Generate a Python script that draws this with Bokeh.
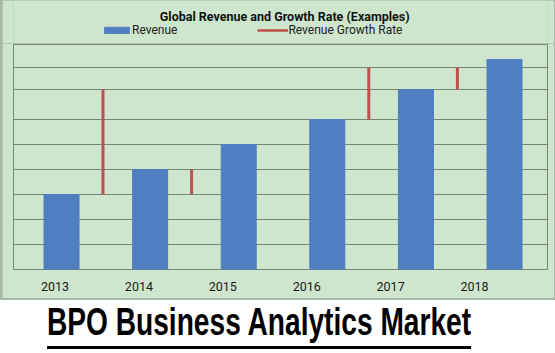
from bokeh.plotting import figure
from bokeh.models import (Range1d, LinearAxis, FixedTicker, Grid, Legend,
                          LegendItem, Div, Label)
from bokeh.layouts import column
from bokeh.embed import file_html
from bokeh.resources import INLINE

# ---- data ----
years = [2013, 2014, 2015, 2016, 2017, 2018]
year_labels = ["2013", "2014", "2015", "2016", "2017", "2018"]
revenue = [3.0, 4.0, 5.0, 6.0, 7.2, 8.4]
growth_low = [3.0, 3.0, float("nan"), 6.0, 7.2, float("nan")]
growth_high = [7.2, 4.0, float("nan"), 8.08, 8.08, float("nan")]
grid_values = [1, 2, 3, 4, 5, 6, 7.2, 8.08]

chart_title = "Global   Revenue   and Growth  Rate (Examples)"
page_title = "BPO Business Analytics Market"
series_names = ["Revenue", "Revenue Growth Rate"]

GREEN = "#cde6cd"
GRAY = "#7a857a"
BLUE = "#4f7fc0"
RED = "#c0504d"
FONT = "Roboto"

# ---- header (chart title + legend) ----
header = figure(width=552, height=43, title=None,
                x_range=Range1d(0, 1), y_range=Range1d(0, 1),
                x_axis_type=None, y_axis_type=None,
                output_backend="svg", toolbar_location=None,
                margin=(0, 1, 0, 2), min_border=0,
                background_fill_color=GREEN, border_fill_color=GREEN,
                outline_line_color=None)

# legend-only stand-ins (their single point lies outside the header's view)
hb = header.vbar(x=[-5], top=[-5], bottom=[-6], width=0.1,
                 fill_color=BLUE, line_color=BLUE)
hs = header.segment(x0=[-5], y0=[-5], x1=[-5], y1=[-6],
                    line_color=RED, line_width=2.5)

header.add_layout(Label(x=279, y=27, x_units="screen", y_units="screen",
                        text=chart_title, text_align="center",
                        text_baseline="middle", text_font=FONT,
                        text_font_style="bold", text_font_size="12.5px",
                        text_color="#111111"))

legend = Legend(items=[LegendItem(label=series_names[0], renderers=[hb]),
                       LegendItem(label=series_names[1], renderers=[hs])],
                orientation="horizontal", location=(88, 6),
                background_fill_alpha=0, border_line_alpha=0,
                padding=0, margin=0, spacing=80,
                glyph_width=31, glyph_height=8, label_height=8,
                label_standoff=0,
                label_text_font=FONT, label_text_font_size="12px",
                label_text_color="#222222")
header.add_layout(legend, "center")

# ---- main chart ----
p = figure(width=552, height=255, title=None,
           x_range=Range1d(2012.458, 2018.485), y_range=Range1d(0, 9),
           x_axis_type=None, y_axis_type=None,
           output_backend="svg", toolbar_location=None,
           margin=(0, 1, 2, 2),
           min_border_left=11, min_border_right=7,
           min_border_top=1, min_border_bottom=29,
           background_fill_color=GREEN, border_fill_color=GREEN,
           outline_line_color=GRAY, outline_line_width=1)

p.add_layout(Grid(dimension=1, ticker=FixedTicker(ticks=grid_values),
                  grid_line_color=GRAY, grid_line_width=1))

bars = p.vbar(x=years, top=revenue, bottom=0, width=0.395,
              fill_color=BLUE, line_color=BLUE)

gx = [y + 0.468 for y in years]
segs = p.segment(x0=gx, y0=growth_low, x1=gx, y1=growth_high,
                 line_color=RED, line_width=3)

p.extra_x_ranges = {"lab": Range1d(2012.505, 2018.87)}
lab_axis = LinearAxis(x_range_name="lab",
                      ticker=FixedTicker(ticks=years),
                      major_label_overrides={y: s for y, s in zip(years, year_labels)},
                      axis_line_color=None, major_tick_line_color=None,
                      minor_tick_line_color=None,
                      major_label_standoff=6,
                      major_label_text_font=FONT,
                      major_label_text_font_size="12.5px",
                      major_label_text_color="#1a1a1a")
p.add_layout(lab_axis, "below")

# ---- page title ----
div = Div(text=('<div style="display:inline-block;margin-left:47px;'
                'font-family:\'Liberation Sans\';font-weight:bold;'
                'font-size:38px;line-height:38px;padding-top:3px;color:#000;'
                'transform:scaleX(0.74);transform-origin:left top;'
                'text-decoration:underline;text-underline-offset:11px;'
                'text-decoration-thickness:3px;white-space:nowrap;">'
                + page_title + '</div>'),
          width=555, height=53, margin=0,
          styles={"background-color": "white"})

layout = column(header, p, div, spacing=0,
                styles={"background-color": "#a9b9a9"})

open("out.html", "w").write(file_html(layout, INLINE))
